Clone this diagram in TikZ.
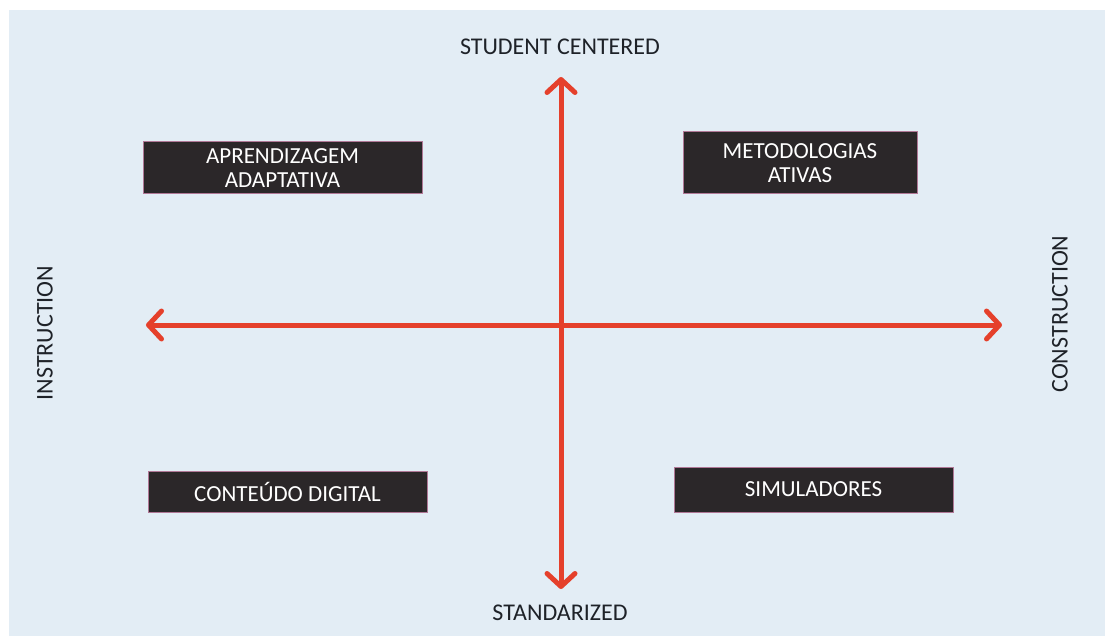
\documentclass[tikz,border=0pt]{standalone}
\usepackage{fontspec}
\setmainfont{Carlito}
\usetikzlibrary{arrows.meta}
\definecolor{bgblue}{HTML}{E3EDF5}
\definecolor{boxdark}{HTML}{2B2729}
\definecolor{boxedge}{HTML}{B07896}
\definecolor{arrowred}{HTML}{E5402B}
\definecolor{txtdark}{HTML}{1E2228}
\tikzset{
  quadbox/.style={fill=boxdark, draw=boxedge, line width=1pt, text=white, align=center, font=\fontsize{23}{24}\selectfont},
  axislabel/.style={text=txtdark, font=\fontsize{24}{26}\selectfont, inner sep=0pt},
  axisarrow/.style={draw=arrowred, line width=5pt, {Straight Barb[length=13pt,width=28pt,line width=5pt,round]}-{Straight Barb[length=13pt,width=28pt,line width=5pt,round]}}
}
\begin{document}
\begin{tikzpicture}[x=1pt,y=-1pt]
\useasboundingbox (0,0) rectangle (1105,636);
\fill[white] (0,0) rectangle (1105,636);
\fill[bgblue] (9,10) rectangle (1105,636);
% axes
\coordinate (top) at (561,77);
\coordinate (bottom) at (561,589);
\coordinate (left) at (146,325);
\coordinate (right) at (1002,325);
\draw[axisarrow] (top) -- (bottom);
\draw[axisarrow] (left) -- (right);
% labels
\node[axislabel] (sc) at (560,47) {STUDENT CENTERED};
\node[axislabel] (st) at (560,613) {STANDARIZED};
\node[axislabel, rotate=90] (in) at (45,333) {INSTRUCTION};
\node[axislabel, rotate=90] (co) at (1060,314) {CONSTRUCTION};
% boxes
\node[quadbox, minimum width=279pt, minimum height=52pt] (apr) at (282.5,168) {APRENDIZAGEM\\ADAPTATIVA};
\node[quadbox, minimum width=234pt, minimum height=62pt] (met) at (800,163) {METODOLOGIAS\\ATIVAS};
\node[quadbox, minimum width=279pt, minimum height=41pt] (con) at (287.5,491.5) {CONTEÚDO DIGITAL};
\node[quadbox, minimum width=279pt, minimum height=45pt] (sim) at (813.5,489.5) {SIMULADORES};
\end{tikzpicture}
\end{document}
